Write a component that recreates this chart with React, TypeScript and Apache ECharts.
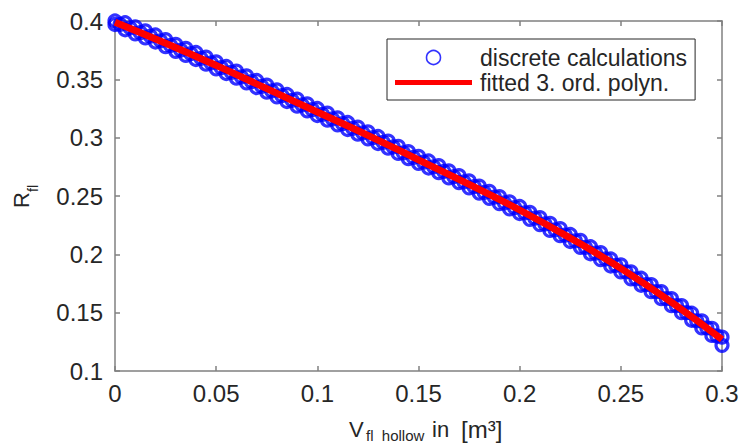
import React, { useEffect, useRef } from "react";
import * as echarts from "echarts";

// Fitted 3rd order polynomial, read at x steps of 0.025
const fitX = [0, 0.025, 0.05, 0.075, 0.1, 0.125, 0.15, 0.175, 0.2, 0.225, 0.25, 0.275, 0.3];
const fitY = [0.399, 0.381, 0.362, 0.342, 0.322, 0.302, 0.281, 0.26, 0.238, 0.214, 0.188, 0.159, 0.127];

// Discrete calculations: x steps of 0.005, upper and lower edge of the point cloud
const discreteX = [
  0, 0.005, 0.01, 0.015, 0.02, 0.025, 0.03, 0.035, 0.04, 0.045, 0.05,
  0.055, 0.06, 0.065, 0.07, 0.075, 0.08, 0.085, 0.09, 0.095, 0.1,
  0.105, 0.11, 0.115, 0.12, 0.125, 0.13, 0.135, 0.14, 0.145, 0.15,
  0.155, 0.16, 0.165, 0.17, 0.175, 0.18, 0.185, 0.19, 0.195, 0.2,
  0.205, 0.21, 0.215, 0.22, 0.225, 0.23, 0.235, 0.24, 0.245, 0.25,
  0.255, 0.26, 0.265, 0.27, 0.275, 0.28, 0.285, 0.29, 0.295, 0.3,
];
const discreteUpper = [
  0.4, 0.3985, 0.395, 0.3915, 0.388, 0.384, 0.38, 0.3765, 0.373, 0.369, 0.365,
  0.361, 0.357, 0.353, 0.349, 0.345, 0.341, 0.337, 0.333, 0.329, 0.325,
  0.321, 0.317, 0.313, 0.309, 0.305, 0.301, 0.297, 0.2925, 0.288, 0.284,
  0.28, 0.276, 0.2715, 0.2675, 0.263, 0.2585, 0.254, 0.2495, 0.245, 0.241,
  0.236, 0.2315, 0.2265, 0.222, 0.217, 0.212, 0.2065, 0.2015, 0.196, 0.191,
  0.185, 0.1795, 0.174, 0.168, 0.162, 0.156, 0.1495, 0.143, 0.1365, 0.129,
];
const discreteLower = [
  0.397, 0.3925, 0.389, 0.3855, 0.382, 0.378, 0.374, 0.3705, 0.367, 0.363, 0.359,
  0.355, 0.351, 0.347, 0.343, 0.339, 0.335, 0.331, 0.327, 0.323, 0.319,
  0.315, 0.311, 0.307, 0.303, 0.299, 0.295, 0.291, 0.2865, 0.282, 0.278,
  0.274, 0.27, 0.2655, 0.2615, 0.257, 0.2525, 0.248, 0.2435, 0.239, 0.235,
  0.23, 0.2255, 0.2205, 0.216, 0.211, 0.206, 0.2005, 0.1955, 0.19, 0.185,
  0.179, 0.1735, 0.168, 0.162, 0.156, 0.15, 0.1435, 0.137, 0.1305, 0.122,
];
// Discrete calculations in between (x = 0.0025 + k*0.005)
const discreteMidX = [
  0.0025, 0.0075, 0.0125, 0.0175, 0.0225, 0.0275, 0.0325, 0.0375, 0.0425, 0.0475,
  0.0525, 0.0575, 0.0625, 0.0675, 0.0725, 0.0775, 0.0825, 0.0875, 0.0925, 0.0975,
  0.1025, 0.1075, 0.1125, 0.1175, 0.1225, 0.1275, 0.1325, 0.1375, 0.1425, 0.1475,
  0.1525, 0.1575, 0.1625, 0.1675, 0.1725, 0.1775, 0.1825, 0.1875, 0.1925, 0.1975,
  0.2025, 0.2075, 0.2125, 0.2175, 0.2225, 0.2275, 0.2325, 0.2375, 0.2425, 0.2475,
  0.2525, 0.2575, 0.2625, 0.2675, 0.2725, 0.2775, 0.2825, 0.2875, 0.2925, 0.2975,
];
const discreteMid = [
  0.397, 0.394, 0.39, 0.387, 0.383, 0.379, 0.375, 0.372, 0.368, 0.364,
  0.36, 0.356, 0.352, 0.348, 0.344, 0.34, 0.336, 0.332, 0.328, 0.324,
  0.32, 0.316, 0.312, 0.308, 0.304, 0.3, 0.296, 0.292, 0.287, 0.283,
  0.279, 0.275, 0.271, 0.2665, 0.262, 0.258, 0.253, 0.249, 0.244, 0.24,
  0.2355, 0.231, 0.226, 0.221, 0.2165, 0.2115, 0.206, 0.201, 0.196, 0.1905,
  0.185, 0.179, 0.174, 0.168, 0.162, 0.156, 0.15, 0.143, 0.137, 0.13,
];

const seriesNames = ["discrete calculations", "fitted 3. ord. polyn."];

const FONT = "Liberation Sans";
const TXT = "#262626";
const AX = "#808080";

export default function App() {
  const ref = useRef<HTMLDivElement>(null);
  useEffect(() => {
    if (!ref.current) return;
    const chart = echarts.init(ref.current, undefined, { renderer: "svg" });
    const discreteData: number[][] = [];
    discreteX.forEach((x, i) => {
      discreteData.push([x, discreteUpper[i]]);
      discreteData.push([x, discreteLower[i]]);
    });
    discreteMidX.forEach((x, i) => {
      discreteData.push([x, discreteMid[i]]);
    });
    const fitData = fitX.map((x, i) => [x, fitY[i]]);

    const axisCommon = {
      type: "value" as const,
      axisLine: { show: true, onZero: false, lineStyle: { color: AX, width: 1.5 } },
      axisTick: { show: true, inside: true, length: 5, lineStyle: { color: AX, width: 1.5 } },
      splitLine: { show: false },
    };

    chart.setOption({
      animation: false,
      backgroundColor: "#ffffff",
      grid: { left: 115, right: 20, top: 21, bottom: 72, containLabel: false },
      xAxis: [
        {
          ...axisCommon,
          position: "bottom",
          min: 0,
          max: 0.3,
          interval: 0.05,
          axisLabel: { color: TXT, fontFamily: FONT, fontSize: 24, margin: 10 },
        },
        {
          ...axisCommon,
          position: "top",
          min: 0,
          max: 0.3,
          interval: 0.05,
          axisLabel: { show: false },
        },
      ],
      yAxis: [
        {
          ...axisCommon,
          position: "left",
          min: 0.1,
          max: 0.4,
          interval: 0.05,
          axisLabel: { color: TXT, fontFamily: FONT, fontSize: 24, margin: 12 },
        },
        {
          ...axisCommon,
          position: "right",
          min: 0.1,
          max: 0.4,
          interval: 0.05,
          axisLabel: { show: false },
        },
      ],
      legend: {
        orient: "vertical",
        left: 387,
        top: 39,
        padding: [7, 8, 6, 8],
        itemGap: 2,
        itemWidth: 77,
        itemHeight: 14,
        borderColor: "#262626",
        borderWidth: 1,
        borderRadius: 0,
        backgroundColor: "#ffffff",
        textStyle: { color: TXT, fontFamily: FONT, fontSize: 23, padding: [0, 0, 0, 3] },
        data: [
          {
            name: seriesNames[0],
            icon: "circle",
            itemStyle: { color: "rgba(0,0,0,0)", borderColor: "#0000ff", borderWidth: 1.6 },
          },
          { name: seriesNames[1], icon: "path://M0,0H77V5H0Z" },
        ],
      },
      series: [
        {
          name: seriesNames[0],
          type: "scatter",
          data: discreteData,
          symbol: "circle",
          symbolSize: 12,
          clip: false,
          itemStyle: { color: "rgba(0,0,0,0)", borderColor: "#0000ff", borderWidth: 3.2 },
          z: 2,
        },
        {
          name: seriesNames[1],
          type: "line",
          data: fitData,
          smooth: true,
          symbol: "none",
          lineStyle: { color: "#ff0000", width: 7 },
          itemStyle: { color: "#ff0000" },
          z: 3,
        },
      ],
      graphic: [
        {
          type: "text",
          left: 349,
          top: 418,
          style: { text: "V", fontFamily: FONT, fontSize: 22, fill: TXT },
        },
        {
          type: "text",
          left: 366,
          top: 428,
          style: { text: "fl  hollow", fontFamily: FONT, fontSize: 15, fill: TXT },
        },
        {
          type: "text",
          left: 432,
          top: 418,
          style: { text: "in", fontFamily: FONT, fontSize: 22, fill: TXT },
        },
        {
          type: "text",
          left: 461,
          top: 417,
          style: { text: "[m³]", fontFamily: FONT, fontSize: 24, fill: TXT },
        },
        {
          type: "group",
          x: 10,
          y: 208,
          rotation: Math.PI / 2,
          children: [
            {
              type: "text",
              x: 0,
              y: 0,
              style: { text: "R", fontFamily: FONT, fontSize: 22, fill: TXT, verticalAlign: "top" },
            },
            {
              type: "text",
              x: 16,
              y: 16,
              style: { text: "fl", fontFamily: FONT, fontSize: 14, fill: TXT, verticalAlign: "top" },
            },
          ],
        },
      ],
    });
    return () => chart.dispose();
  }, []);
  return (
    <div
      ref={ref}
      style={{ position: "fixed", left: 0, top: 0, width: 742, height: 443 }}
    />
  );
}
